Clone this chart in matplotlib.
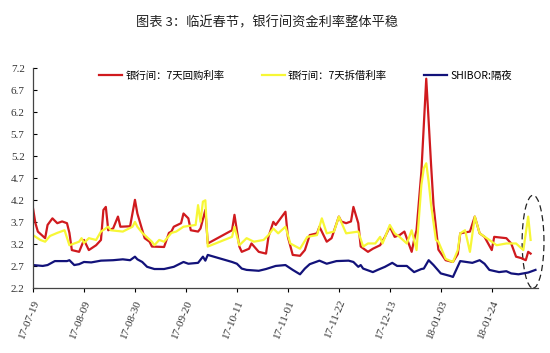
from datetime import datetime, timedelta

import matplotlib
matplotlib.use('Agg')
import matplotlib.pyplot as plt
from matplotlib.patches import Ellipse

plt.rcParams['font.family'] = ['Noto Sans CJK SC', 'DejaVu Sans']

# 银行间：7天回购利率
red_dates = ['17-07-19', '17-07-20', '17-07-21', '17-07-24', '17-07-25', '17-07-27', '17-07-29', '17-07-31', '17-08-02', '17-08-03',
             '17-08-04', '17-08-07', '17-08-09', '17-08-11', '17-08-14', '17-08-16', '17-08-17', '17-08-18', '17-08-19', '17-08-21',
             '17-08-23', '17-08-24', '17-08-28', '17-08-30', '17-08-31', '17-09-03', '17-09-05', '17-09-06', '17-09-11', '17-09-13',
             '17-09-14', '17-09-15', '17-09-18', '17-09-19', '17-09-21', '17-09-22', '17-09-25', '17-09-26', '17-09-28', '17-09-29',
             '17-10-09', '17-10-10', '17-10-12', '17-10-13', '17-10-16', '17-10-17', '17-10-20', '17-10-23', '17-10-24', '17-10-26',
             '17-10-27', '17-10-31', '17-11-01', '17-11-03', '17-11-06', '17-11-08', '17-11-10', '17-11-13', '17-11-14', '17-11-17',
             '17-11-19', '17-11-22', '17-11-23', '17-11-25', '17-11-27', '17-11-28', '17-11-30', '17-12-01', '17-12-04', '17-12-06',
             '17-12-09', '17-12-11', '17-12-13', '17-12-15', '17-12-17', '17-12-19', '17-12-22', '17-12-23', '17-12-24', '17-12-26',
             '17-12-28', '17-12-29', '17-12-30', '17-12-31', '18-01-02', '18-01-05', '18-01-08', '18-01-10', '18-01-11', '18-01-15',
             '18-01-17', '18-01-19', '18-01-21', '18-01-24', '18-01-25', '18-01-30', '18-02-01', '18-02-03', '18-02-05', '18-02-07',
             '18-02-08', '18-02-09']
red_vals = [4.02, 3.68, 3.49, 3.34, 3.64, 3.79, 3.68, 3.72, 3.68, 3.46,
            3.07, 3.03, 3.30, 3.07, 3.18, 3.30, 3.98, 4.05, 3.52, 3.56,
            3.83, 3.60, 3.61, 4.21, 3.90, 3.34, 3.26, 3.15, 3.14, 3.46,
            3.49, 3.60, 3.68, 3.90, 3.79, 3.52, 3.49, 3.56, 3.98, 3.22,
            3.52, 3.87, 3.15, 3.03, 3.10, 3.22, 3.03, 2.99, 3.37, 3.71,
            3.64, 3.94, 3.37, 2.96, 2.94, 3.07, 3.41, 3.45, 3.60, 3.26,
            3.34, 3.83, 3.72, 3.68, 3.72, 4.05, 3.68, 3.15, 3.03, 3.10,
            3.18, 3.37, 3.60, 3.37, 3.41, 3.49, 3.03, 3.30, 3.52, 4.85,
            6.96, 5.99, 5.00, 4.09, 3.08, 2.84, 2.80, 2.98, 3.45, 3.49,
            3.83, 3.45, 3.37, 3.07, 3.37, 3.34, 3.22, 2.92, 2.89, 2.84,
            3.03, 2.99]

# 银行间：7天拆借利率
yel_dates = ['17-07-19', '17-07-22', '17-07-24', '17-07-26', '17-07-29', '17-08-01', '17-08-03', '17-08-07', '17-08-08', '17-08-09',
             '17-08-11', '17-08-14', '17-08-16', '17-08-19', '17-08-20', '17-08-25', '17-08-29', '17-08-30', '17-08-31', '17-09-02',
             '17-09-06', '17-09-07', '17-09-09', '17-09-11', '17-09-14', '17-09-16', '17-09-19', '17-09-24', '17-09-25', '17-09-26',
             '17-09-27', '17-09-28', '17-09-29', '17-10-09', '17-10-10', '17-10-12', '17-10-15', '17-10-18', '17-10-22', '17-10-24',
             '17-10-26', '17-10-28', '17-10-31', '17-11-02', '17-11-06', '17-11-09', '17-11-13', '17-11-15', '17-11-17', '17-11-20',
             '17-11-22', '17-11-25', '17-11-30', '17-12-02', '17-12-04', '17-12-07', '17-12-09', '17-12-10', '17-12-13', '17-12-15',
             '17-12-17', '17-12-20', '17-12-22', '17-12-24', '17-12-26', '17-12-27', '17-12-28', '17-12-29', '17-12-30', '18-01-01',
             '18-01-02', '18-01-05', '18-01-08', '18-01-10', '18-01-11', '18-01-13', '18-01-15', '18-01-17', '18-01-19', '18-01-23',
             '18-01-26', '18-01-30', '18-02-03', '18-02-06', '18-02-08', '18-02-09']
yel_vals = [3.41, 3.30, 3.26, 3.39, 3.46, 3.52, 3.18, 3.26, 3.34, 3.23,
            3.34, 3.30, 3.49, 3.60, 3.52, 3.49, 3.60, 3.71, 3.60, 3.46,
            3.26, 3.18, 3.30, 3.26, 3.46, 3.49, 3.60, 3.64, 4.09, 3.71,
            4.17, 4.20, 3.15, 3.37, 3.60, 3.18, 3.34, 3.26, 3.30, 3.41,
            3.56, 3.45, 3.60, 3.22, 3.10, 3.37, 3.41, 3.79, 3.45, 3.49,
            3.83, 3.45, 3.49, 3.15, 3.22, 3.22, 3.37, 3.22, 3.64, 3.45,
            3.37, 3.22, 3.52, 3.07, 4.55, 4.93, 5.04, 4.62, 4.09, 3.30,
            3.26, 2.87, 2.80, 3.07, 3.45, 3.52, 3.03, 3.83, 3.45, 3.30,
            3.18, 3.22, 3.22, 3.07, 3.83, 3.30]

# SHIBOR:隔夜
blue_dates = ['17-07-19', '17-07-23', '17-07-25', '17-07-28', '17-08-02', '17-08-03', '17-08-05', '17-08-07', '17-08-09', '17-08-12',
              '17-08-16', '17-08-21', '17-08-25', '17-08-28', '17-08-30', '17-08-31', '17-09-02', '17-09-04', '17-09-07', '17-09-11',
              '17-09-15', '17-09-19', '17-09-21', '17-09-25', '17-09-27', '17-09-28', '17-09-29', '17-10-09', '17-10-11', '17-10-13',
              '17-10-15', '17-10-20', '17-10-23', '17-10-27', '17-10-31', '17-11-03', '17-11-06', '17-11-08', '17-11-10', '17-11-14',
              '17-11-17', '17-11-21', '17-11-26', '17-11-28', '17-11-30', '17-12-01', '17-12-02', '17-12-06', '17-12-08', '17-12-11',
              '17-12-14', '17-12-16', '17-12-20', '17-12-23', '17-12-26', '17-12-27', '17-12-29', '17-12-31', '18-01-03', '18-01-07',
              '18-01-08', '18-01-11', '18-01-16', '18-01-19', '18-01-21', '18-01-23', '18-01-27', '18-01-30', '18-02-01', '18-02-04',
              '18-02-08', '18-02-11']
blue_vals = [2.73, 2.71, 2.73, 2.82, 2.82, 2.84, 2.73, 2.75, 2.80, 2.79,
             2.83, 2.84, 2.86, 2.84, 2.92, 2.86, 2.80, 2.69, 2.64, 2.64,
             2.69, 2.80, 2.76, 2.78, 2.92, 2.83, 2.96, 2.80, 2.76, 2.65,
             2.62, 2.60, 2.64, 2.71, 2.73, 2.62, 2.52, 2.65, 2.75, 2.83,
             2.76, 2.82, 2.83, 2.80, 2.69, 2.73, 2.65, 2.57, 2.62, 2.69,
             2.78, 2.71, 2.71, 2.57, 2.64, 2.65, 2.84, 2.73, 2.54, 2.48,
             2.46, 2.82, 2.78, 2.84, 2.76, 2.62, 2.57, 2.59, 2.54, 2.52,
             2.56, 2.62]

y_ticks = [2.2, 2.7, 3.2, 3.7, 4.2, 4.7, 5.2, 5.7, 6.2, 6.7, 7.2]


def to_dates(lst):
    return [datetime.strptime(s, '%y-%m-%d') for s in lst]


fig = plt.figure(figsize=(5.5, 3.53), dpi=100)
ax = fig.add_axes([0.06, 0.183, 0.918, 0.624])

ax.plot(to_dates(red_dates), red_vals, color='#D01A1E', lw=1.6, label='银行间：7天回购利率')
ax.plot(to_dates(yel_dates), yel_vals, color='#F7F736', lw=1.6, label='银行间：7天拆借利率')
ax.plot(to_dates(blue_dates), blue_vals, color='#12127A', lw=1.6, label='SHIBOR:隔夜')

# dashed circle around the latest readings
ax.add_patch(Ellipse((datetime(2018, 2, 10), 3.26), width=9, height=2.11, clip_on=False,
                     fill=False, ec='#222222', lw=0.9, ls=(0, (5, 3))))

start = datetime(2017, 7, 19)
ax.set_xlim(start, datetime(2018, 2, 12))
ax.set_ylim(2.2, 7.2)
ax.set_yticks(y_ticks)
ax.set_yticklabels([f'{t:.1f}' for t in y_ticks], family='Liberation Serif', fontsize=8, color='#333333')
xt = [start + timedelta(days=21 * i) for i in range(10)]
ax.set_xticks(xt)
ax.set_xticklabels([d.strftime('%y-%m-%d') for d in xt], rotation=68, ha='right',
                   rotation_mode='anchor', family='Liberation Serif', fontsize=8, color='#333333')
ax.tick_params(axis='y', direction='in', length=3, pad=6)
ax.tick_params(axis='x', direction='out', length=3, pad=4)
for s in ['top', 'right']:
    ax.spines[s].set_visible(False)
for s in ['left', 'bottom']:
    ax.spines[s].set_color('#444444')
    ax.spines[s].set_linewidth(0.9)

ax.legend(loc='upper center', bbox_to_anchor=(0.54, 1.03), ncol=3, frameon=False,
          fontsize=7.5, handlelength=2.2, columnspacing=3.6, handletextpad=0.3)

fig.text(0.485, 0.935, '图表 3：临近春节，银行间资金利率整体平稳', ha='center', va='center',
         fontsize=9.5, color='#222222')

fig.savefig('out.png', dpi=100)
